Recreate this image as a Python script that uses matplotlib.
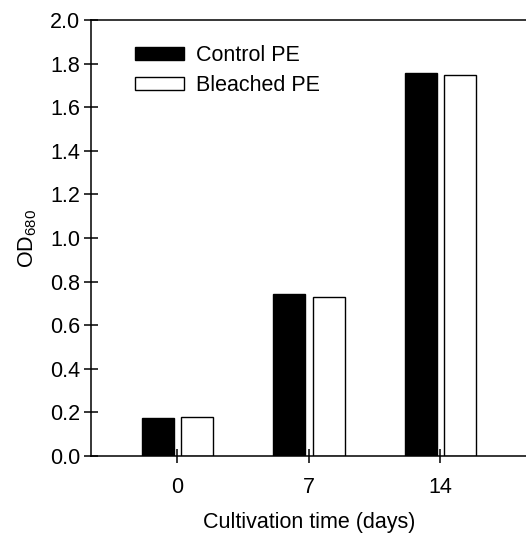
import matplotlib
matplotlib.use('Agg')
import matplotlib.pyplot as plt
import numpy as np

plt.rcParams['font.family'] = ['Liberation Sans', 'DejaVu Sans']
plt.rcParams['mathtext.fontset'] = 'custom'
plt.rcParams['mathtext.rm'] = 'Liberation Sans'

days = ["0", "7", "14"]
control = [0.176, 0.742, 1.755]
bleached = [0.179, 0.728, 1.748]

fs = 15.5
fig = plt.figure(figsize=(5.26, 5.35), dpi=100)
ax = fig.add_axes([91/526, 1 - 456/535, 1 - 91/526 + 0.002, (456 - 20)/535])

x = np.arange(len(days))
w = 0.244
ax.bar(x - 0.147, control, w, color="black", edgecolor="black", linewidth=1.0, label="Control PE")
ax.bar(x + 0.151, bleached, w, color="white", edgecolor="black", linewidth=1.0, label="Bleached PE")

ax.set_xlim(-0.656, 2.66)
ax.set_ylim(0, 2.0)
ax.set_yticks(np.arange(0, 2.01, 0.2))
ax.set_yticklabels(["%.1f" % v for v in np.arange(0, 2.01, 0.2)])
ax.set_xticks(x)
ax.set_xticklabels(days)
ax.tick_params(direction="inout", length=10, width=1.1, labelsize=fs, pad=3)
ax.tick_params(axis="x", pad=10)
for s in ["left", "bottom", "top"]:
    ax.spines[s].set_linewidth(1.1)
ax.spines["right"].set_visible(False)

ax.set_xlabel("Cultivation time (days)", fontsize=fs, labelpad=10)
ax.set_ylabel(r"OD$_{\mathrm{680}}$", fontsize=fs, labelpad=8)

ax.legend(loc="upper left", bbox_to_anchor=(0.081, 0.962), frameon=False, fontsize=fs,
          handlelength=2.28, handleheight=0.55, handletextpad=0.56, labelspacing=0.42,
          borderaxespad=0)

plt.savefig("out.png", dpi=100)
plt.close()
